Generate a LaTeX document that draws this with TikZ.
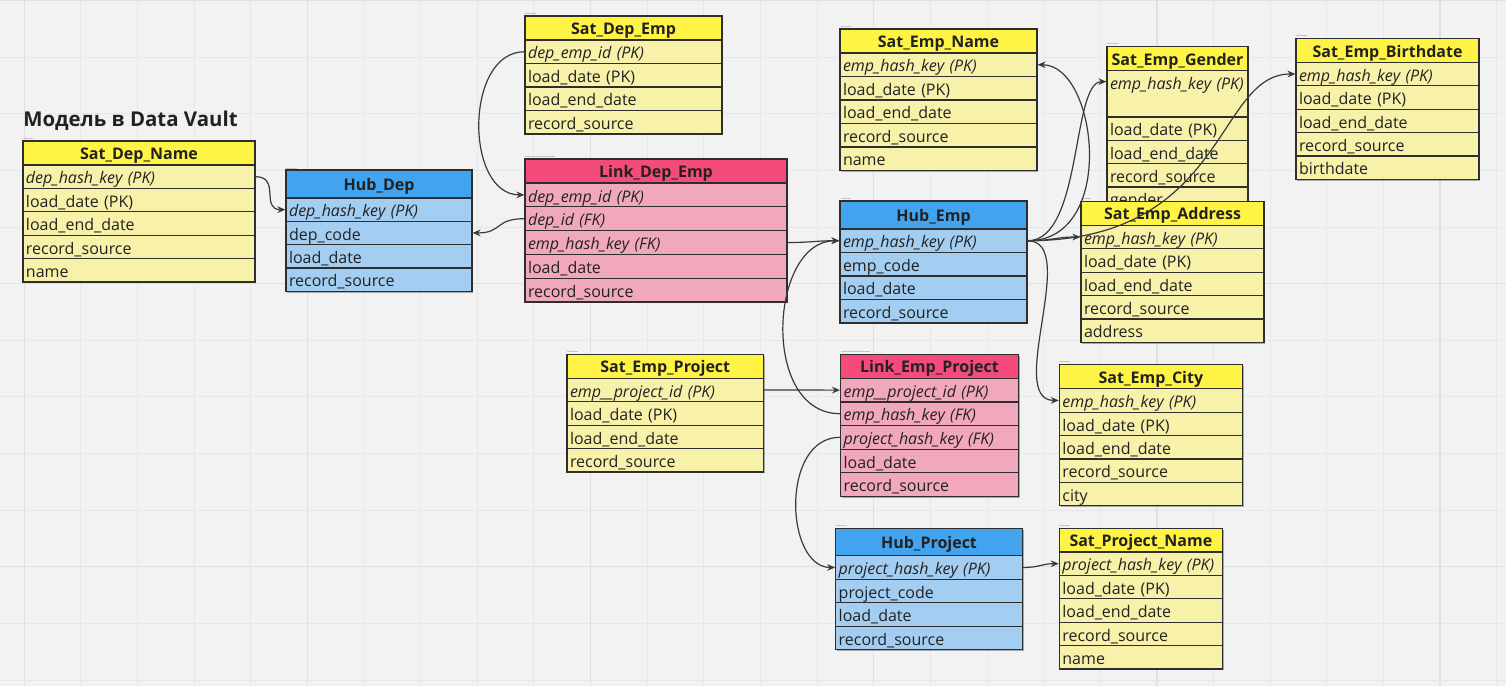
\documentclass[tikz,border=0pt]{standalone}
\usepackage{fontspec}
\setmainfont{Open Sans}
\usetikzlibrary{calc,arrows.meta,shadows}
\definecolor{bgc}{HTML}{F2F2F2}
\definecolor{gridc}{HTML}{E7E7E7}
\definecolor{gridm}{HTML}{E0E0E0}
\definecolor{yhead}{HTML}{FFF445}
\definecolor{yrow}{HTML}{F7F1A9}
\definecolor{bhead}{HTML}{42A4EF}
\definecolor{brow}{HTML}{A3CEF1}
\definecolor{phead}{HTML}{F44B7B}
\definecolor{prow}{HTML}{F2A8BC}
\definecolor{bordc}{HTML}{2E2E2E}
\definecolor{linec}{HTML}{3A3A3A}
\definecolor{tinyc}{HTML}{C4C4C4}
\definecolor{txtc}{HTML}{222222}
\tikzset{
 dvshadow/.style={drop shadow={shadow xshift=1.1pt, shadow yshift=-1.1pt, opacity=0.3, fill=black}},
 headbox/.style={draw=bordc, line width=0.9pt, inner sep=0pt, font=\fontsize{12}{14}\selectfont\bfseries, text height=10pt, text depth=0pt, text=txtc, dvshadow},
 rowbox/.style={draw=bordc, line width=0.9pt, inner xsep=2.25pt, inner ysep=0pt, font=\fontsize{12}{14}\selectfont, text height=10.8pt, text depth=0pt, align=left, text=txtc, dvshadow},
 conn/.style={draw=linec, line width=0.9pt, -{Stealth[length=6pt,width=5pt]}},
}
\newcommand\dvtable[9][y]{%
 \pgfmathsetmacro\dvW{#5*0.75}%
 \pgfmathsetmacro\dvHH{#6*0.75}%
 \pgfmathsetmacro\dvRH{#7*0.75}%
 \pgfmathsetmacro\dvTW{(#5-6)*0.75}%
 \node[headbox, fill=#1head, minimum width=\dvW pt, minimum height=\dvHH pt] (#2) at ({#3+#5/2},{#4+#6/2}) {#8};
 \foreach \rowtxt [count=\ri] in {#9} {
   \node[rowbox, fill=#1row, text width=\dvTW pt, minimum height=\dvRH pt] (#2-\ri) at ({#3+#5/2},{#4+#6+(\ri-0.5)*#7}) {\rowtxt};
 }
}
\newcommand\dvconn[4]{\draw[conn] (#1) .. controls ($(#1)+(#2,0)$) and ($(#3)+(#4,0)$) .. (#3);}
\begin{document}
\begin{tikzpicture}[x=0.75pt,y=-0.75pt]
\useasboundingbox (0,0) rectangle (1506,686);
\fill[bgc] (0,0) rectangle (1506,686);
\foreach \k in {0,...,26} {\draw[gridc, line width=0.75pt] ({24.3+\k*56.63},0) -- ++(0,686);}
\foreach \k in {0,...,12} {\draw[gridc, line width=0.75pt] (0,{0.5+\k*56.63}) -- ++(1506,0);}
\foreach \k in {0,5,...,25} {\draw[gridm, line width=1pt] ({24.3+\k*56.63},0) -- ++(0,686);}
\foreach \k in {0,5,10} {\draw[gridm, line width=1pt] (0,{0.5+\k*56.63}) -- ++(1506,0);}
\foreach \a/\b/\c in {23/33/138, 286/297/168, 525/536/13, 525/555/156, 841/851/26, 841/851/198, 1107/1119/43, 1296/1307/35, 1081/1091/198, 567/578/351, 841/870/351, 1059/1070/361, 836/847/525, 1059/1070/525}
  {\draw[tinyc, line width=0.6pt] (\a,\c) -- (\b,\c);}
\node[anchor=west, inner sep=0pt, font=\fontsize{15.3}{17}\selectfont\bfseries, text=txtc] (title) at (23,121) {Модель в Data Vault};

\dvtable{sdn}{23}{141}{232}{24}{23.4}{Sat\_Dep\_Name}{\textit{dep\_hash\_key (PK)}, load\_date (PK), load\_end\_date, record\_source, name}
\dvtable[b]{hd}{286}{170}{186}{28}{23.3}{Hub\_Dep}{\textit{dep\_hash\_key (PK)}, dep\_code, load\_date, record\_source}
\dvtable{sde}{525}{16}{197}{24}{23.5}{Sat\_Dep\_Emp}{\textit{dep\_emp\_id (PK)}, load\_date (PK), load\_end\_date, record\_source}
\dvtable[p]{lde}{525}{159}{262}{24}{23.8}{Link\_Dep\_Emp}{\textit{dep\_emp\_id (PK)}, \textit{dep\_id (FK)}, \textit{emp\_hash\_key (FK)}, load\_date, record\_source}
\dvtable{sen}{840}{29}{197}{24}{23.5}{Sat\_Emp\_Name}{\textit{emp\_hash\_key (PK)}, load\_date (PK), load\_end\_date, record\_source, name}
\dvtable[b]{he}{840}{201}{187}{28}{23.5}{Hub\_Emp}{\textit{emp\_hash\_key (PK)}, emp\_code, load\_date, record\_source}
% Sat_Emp_Gender (tall key row)
\node[headbox, fill=yhead, minimum width=105.75pt, minimum height=18pt] (seg) at (1177.5,58.5) {Sat\_Emp\_Gender};
\node[rowbox, fill=yrow, text width=101.25pt, minimum height=34.875pt, text depth=17.2pt] (seg-1) at (1177.5,93.75) {\textit{emp\_hash\_key (PK)}};
\node[rowbox, fill=yrow, text width=101.25pt, minimum height=17.475pt] (seg-2) at (1177.5,128.65) {load\_date (PK)};
\node[rowbox, fill=yrow, text width=101.25pt, minimum height=17.475pt] (seg-3) at (1177.5,151.95) {load\_end\_date};
\node[rowbox, fill=yrow, text width=101.25pt, minimum height=17.475pt] (seg-4) at (1177.5,175.25) {record\_source};
\node[rowbox, fill=yrow, text width=101.25pt, minimum height=17.475pt] (seg-5) at (1177.5,198.55) {gender};
\coordinate (segin) at ($(seg-1.north west)+(0,11.75)$);
\dvtable{seb}{1296}{38.7}{183}{23.6}{23.4}{Sat\_Emp\_Birthdate}{\textit{emp\_hash\_key (PK)}, load\_date (PK), load\_end\_date, record\_source, birthdate}
\dvtable{sea}{1081}{201.3}{183}{24}{23.4}{Sat\_Emp\_Address}{\textit{emp\_hash\_key (PK)}, load\_date (PK), load\_end\_date, record\_source, address}
\dvtable{sep}{567}{354.3}{196.5}{24}{23.4}{Sat\_Emp\_Project}{\textit{emp\_\_project\_id (PK)}, load\_date (PK), load\_end\_date, record\_source}
\dvtable[p]{lep}{840.6}{354.3}{177.7}{24}{23.6}{Link\_Emp\_Project}{\textit{emp\_\_project\_id (PK)}, \textit{emp\_hash\_key (FK)}, \textit{project\_hash\_key (FK)}, load\_date, record\_source}
\dvtable{sec}{1059.4}{364.7}{183}{24}{23.4}{Sat\_Emp\_City}{\textit{emp\_hash\_key (PK)}, load\_date (PK), load\_end\_date, record\_source, city}
\dvtable[b]{hp}{835.7}{528.3}{186.6}{27.4}{23.5}{Hub\_Project}{\textit{project\_hash\_key (PK)}, project\_code, load\_date, record\_source}
\dvtable{spn}{1059.4}{528.3}{163}{23.7}{23.4}{Sat\_Project\_Name}{\textit{project\_hash\_key (PK)}, load\_date (PK), load\_end\_date, record\_source, name}

\dvconn{sdn-1.east}{25}{hd-1.west}{-25}
\dvconn{sde-1.west}{-60}{lde-1.west}{-60}
\dvconn{lde-2.west}{-30}{hd-2.east}{30}
\dvconn{lde-3.east}{25}{he-1.west}{-25}
\dvconn{lep-2.west}{-80}{he-1.west}{-70}
\dvconn{sep-1.east}{25}{lep-1.west}{-25}
\dvconn{lep-3.west}{-60}{hp-1.west}{-50}
\dvconn{hp-1.east}{18}{spn-1.west}{-18}
\dvconn{he-1.east}{90}{sen-1.east}{60}
\dvconn{he-1.east}{55}{segin}{-35}
\dvconn{he-1.east}{200}{seb-1.west}{-80}
\dvconn{he-1.east}{25}{sea-1.west}{-25}
\dvconn{he-1.east}{53}{sec-1.west}{-54}
\end{tikzpicture}
\end{document}
